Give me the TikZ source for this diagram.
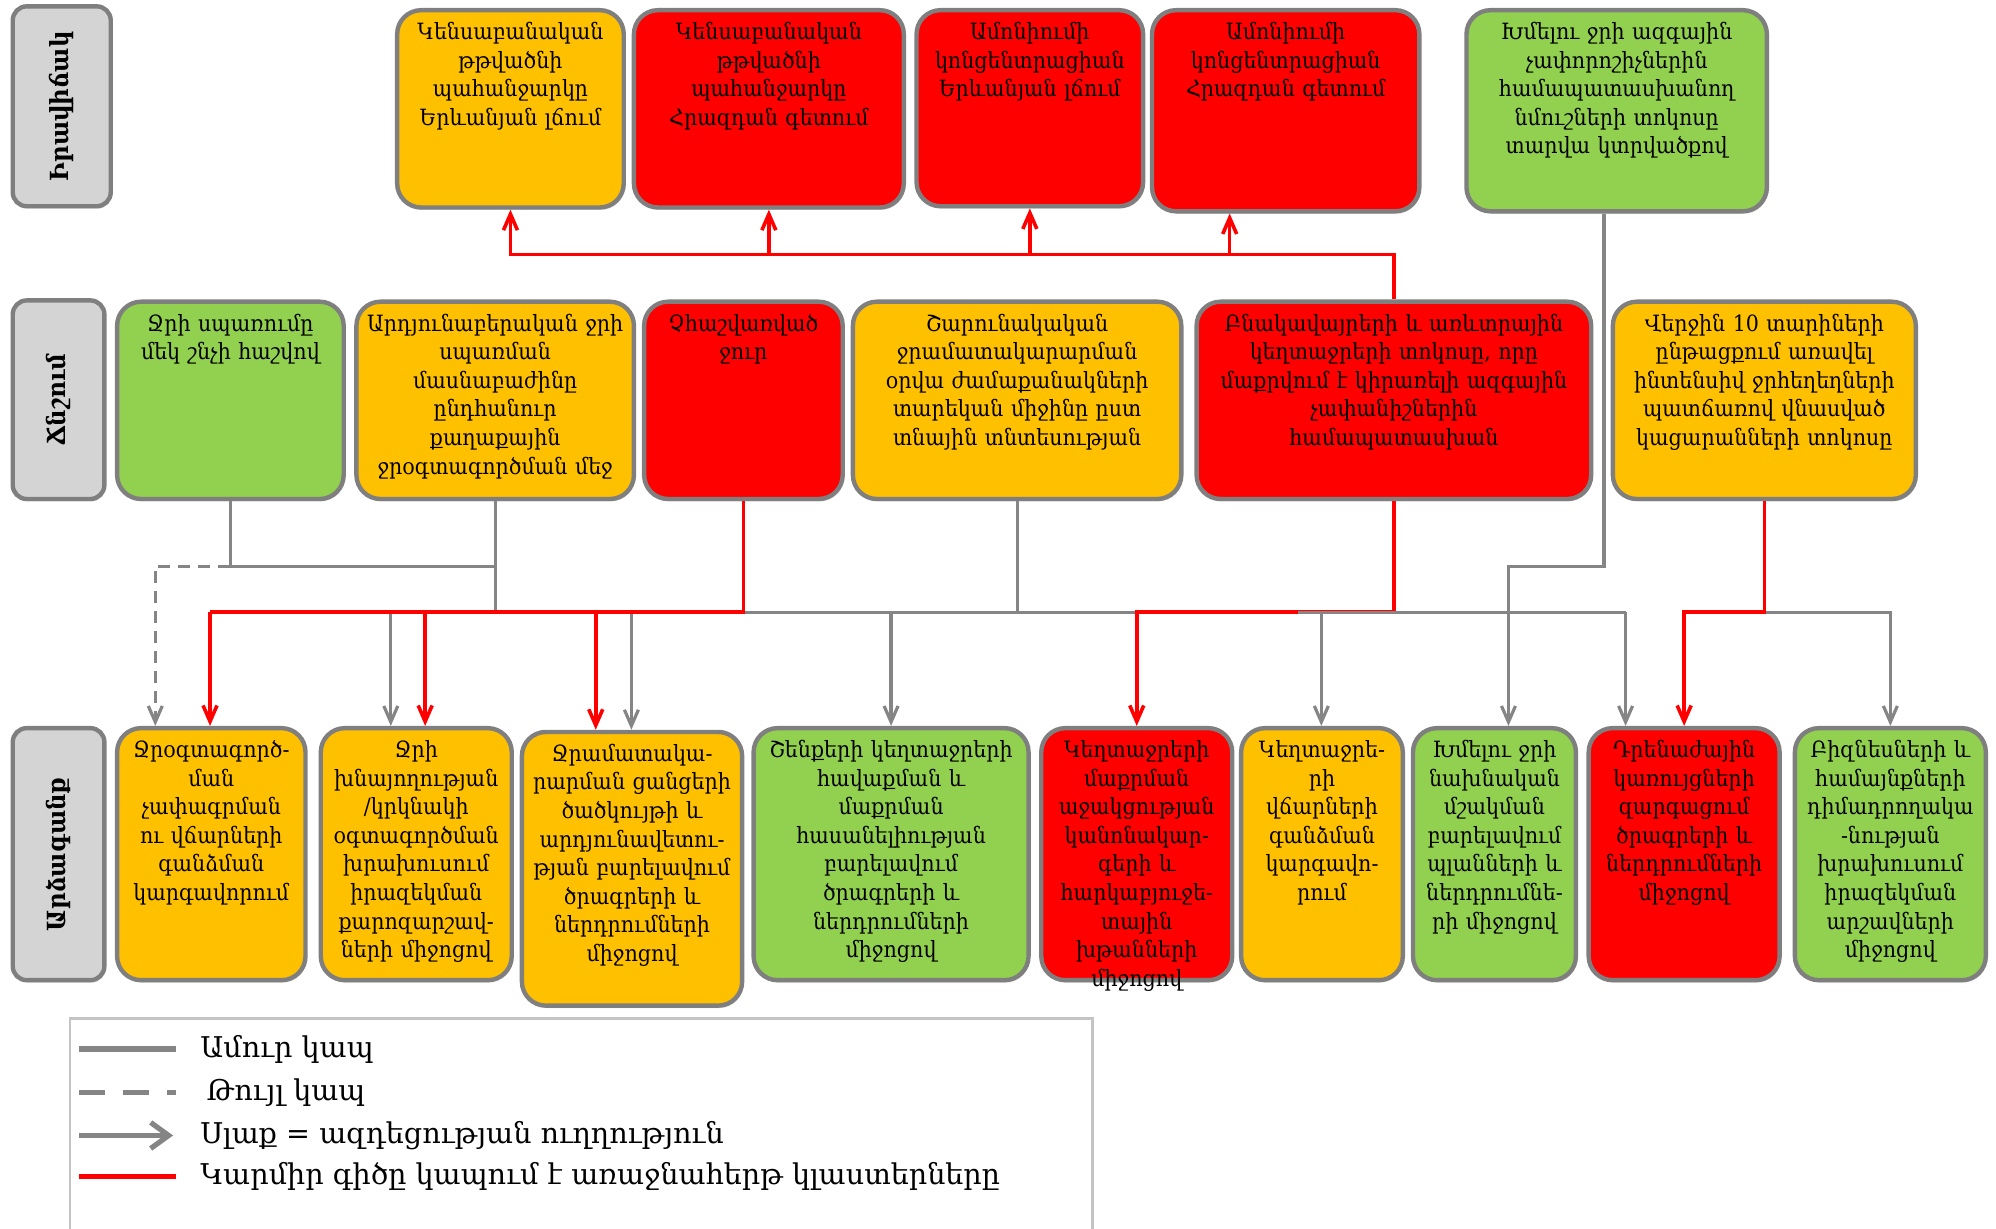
\documentclass[tikz,border=0pt]{standalone}
\usepackage{fontspec}
\setmainfont{DejaVu Serif}[FakeStretch=0.92]
\newfontfamily\legfont{DejaVu Serif}
\usetikzlibrary{arrows.meta,shadows}
\definecolor{cor}{HTML}{FFC000}
\definecolor{cred}{HTML}{FF0000}
\definecolor{cgr}{HTML}{92D050}
\definecolor{cbd}{HTML}{7F7F7F}
\definecolor{clab}{HTML}{D4D4D4}
\definecolor{cln}{HTML}{858585}
\definecolor{clegb}{HTML}{C4C4C4}
\newcommand\mybox[7]{%
  \pgfmathsetmacro\mbw{(#4-#2)*0.6365}%
  \pgfmathsetmacro\mbh{(#5-#3)*0.6365}%
  \pgfmathsetmacro\mbt{\mbw-2}%
  \node[box,fill=#6,minimum width=\mbw pt,minimum height=\mbh pt] (#1) at ({(#2+#4)/2},{(#3+#5)/2}) {};
  \node[txt,text width=\mbt pt] (#1t) at ({(#2+#4)/2},{#3+7}) {\strut #7};
}
\newcommand\mylab[6]{%
  \pgfmathsetmacro\mbw{(#4-#2)*0.6365}%
  \pgfmathsetmacro\mbh{(#5-#3)*0.6365}%
  \node[labbox,minimum width=\mbw pt,minimum height=\mbh pt] (#1) at ({(#2+#4)/2},{(#3+#5)/2}) {};
  \node[labtxt] (#1t) at (#1.center) {#6};
}
\begin{document}
\begin{tikzpicture}[x=0.6365pt,y=-0.6365pt,
  box/.style={draw=cbd,line width=2.2pt,rounded corners=12pt,inner sep=0pt,
    drop shadow={shadow xshift=0.6pt,shadow yshift=-1.2pt,opacity=0.3}},
  labbox/.style={draw=cbd,fill=clab,line width=2.2pt,rounded corners=7pt,inner sep=0pt,
    drop shadow={shadow xshift=0.6pt,shadow yshift=-1.2pt,opacity=0.3}},
  txt/.style={anchor=north,inner sep=0pt,align=center,font=\fontsize{11.2}{14.3}\selectfont},
  labtxt/.style={rotate=90,inner sep=0pt,font=\fontsize{12.5}{14}\selectfont\bfseries},
  gl/.style={draw=cln,line width=1.6pt},
  gd/.style={draw=cln,line width=1.6pt,dash pattern=on 6pt off 4pt},
  rl/.style={draw=cred,line width=1.8pt},
  ga/.style={gl,-{Straight Barb[length=8pt,width=7pt]}},
  gda/.style={gd,-{Straight Barb[length=8pt,width=7pt]}},
  ra/.style={rl,-{Straight Barb[length=8pt,width=7pt]}},
  legt/.style={anchor=west,inner sep=0pt,font=\legfont\fontsize{14.3}{16}\selectfont},
]
\useasboundingbox (0,0) rectangle (1568,965);

% side labels
\mylab{L1}{10}{5}{87}{162}{Իրավիճակ}
\mylab{L2}{10}{236}{82}{392}{Ճնշում}
\mylab{L3}{10}{572}{82}{770}{Արձագանք}

% top row
\mybox{T1}{312}{8}{490}{163}{cor}{Կենսաբանական\\թթվածնի\\պահանջարկը\\Երևանյան լճում}
\mybox{T2}{498}{8}{710}{163}{cred}{Կենսաբանական\\թթվածնի\\պահանջարկը\\Հրազդան գետում}
\mybox{T3}{720}{8}{898}{162}{cred}{Ամոնիումի\\կոնցենտրացիան\\Երևանյան լճում}
\mybox{T4}{905}{8}{1115}{166}{cred}{Ամոնիումի\\կոնցենտրացիան\\Հրազդան գետում}
\mybox{T5}{1152}{8}{1388}{166}{cgr}{Խմելու ջրի ազգային\\չափորոշիչներին\\համապատասխանող\\նմուշների տոկոսը\\տարվա կտրվածքով}

% middle row
\mybox{M1}{92}{237}{270}{392}{cgr}{Ջրի սպառումը\\մեկ շնչի հաշվով}
\mybox{M2}{280}{237}{498}{392}{cor}{Արդյունաբերական ջրի\\սպառման\\մասնաբաժինը\\ընդհանուր\\քաղաքային\\ջրօգտագործման մեջ}
\mybox{M3}{506}{237}{662}{392}{cred}{Չհաշվառված\\ջուր}
\mybox{M4}{670}{237}{928}{392}{cor}{Շարունակական\\ջրամատակարարման\\օրվա ժամաքանակների\\տարեկան միջինը ըստ\\տնային տնտեսության}
\mybox{M5}{940}{237}{1250}{392}{cred}{Բնակավայրերի և առևտրային\\կեղտաջրերի տոկոսը, որը\\մաքրվում է կիրառելի ազգային\\չափանիշներին\\համապատասխան}
\mybox{M6}{1267}{237}{1505}{392}{cor}{Վերջին 10 տարիների\\ընթացքում առավել\\ինտենսիվ ջրհեղեղների\\պատճառով վնասված\\կացարանների  տոկոսը}

% bottom row
\mybox{B1}{92}{572}{240}{770}{cor}{Ջրօգտագործ-\\ման\\չափագրման\\ու վճարների\\գանձման\\կարգավորում}
\mybox{B2}{252}{572}{402}{770}{cor}{Ջրի\\խնայողության\\/կրկնակի\\օգտագործման\\խրախուսում\\իրազեկման\\քարոզարշավ-\\ների միջոցով}
\mybox{B3}{410}{575}{583}{790}{cor}{Ջրամատակա-\\րարման ցանցերի\\ծածկույթի և\\արդյունավետու-\\թյան բարելավում\\ծրագրերի և\\ներդրումների\\միջոցով}
\mybox{B4}{592}{572}{808}{770}{cgr}{Շենքերի կեղտաջրերի\\հավաքման և\\մաքրման\\հասանելիության\\բարելավում\\ծրագրերի և\\ներդրումների\\միջոցով}
\mybox{B5}{818}{572}{968}{770}{cred}{Կեղտաջրերի\\մաքրման\\աջակցության\\կանոնակար-\\գերի և\\հարկաբյուջե-\\տային\\խթանների\\միջոցով}
\mybox{B6}{975}{572}{1102}{770}{cor}{Կեղտաջրե-\\րի\\վճարների\\գանձման\\կարգավո-\\րում}
\mybox{B7}{1110}{572}{1238}{770}{cgr}{Խմելու ջրի\\նախնական\\մշակման\\բարելավում\\պլանների և\\ներդրումնե-\\րի միջոցով}
\mybox{B8}{1248}{572}{1398}{770}{cred}{Դրենաժային\\կառույցների\\զարգացում\\ծրագրերի և\\ներդրումների\\միջոցով}
\mybox{B9}{1410}{572}{1560}{770}{cgr}{Բիզնեսների և\\համայնքների\\դիմադրողակա\\-նության\\խրախուսում\\իրազեկման\\արշավների\\միջոցով}

% helper coordinates
\coordinate (rtop) at (0,200);
\coordinate (bus) at (0,481);
\coordinate (j445) at (0,445);
\coordinate (t4a) at (966,0);
\coordinate (d1) at (122,445);
\coordinate (c165) at (165,481);
\coordinate (c334) at (334,481);
\coordinate (c468) at (468,481);
\coordinate (c307) at (307,481);
\coordinate (c496) at (496,481);
\coordinate (c700) at (700,481);
\coordinate (c1020) at (1020,481);
\coordinate (c1038) at (1038,481);
\coordinate (c1277) at (1277,481);
\coordinate (t5x) at (1260,0);
\coordinate (c1185) at (1185,445);

% top red connectors
\draw[ra] (M5.north) -- (M5.north |- rtop) -| (T1.south);
\draw[ra] (T2.south |- rtop) -- (T2.south);
\draw[ra] (T3.south |- rtop) -- (T3.south);
\draw[ra] (t4a |- rtop) -- (t4a |- T4.south);

% gray bus and sources
\draw[gl] (M1.south) -- (M1.south |- j445) -- (M2.south |- j445);
\draw[gda] (M1.south |- j445) -- (d1) -- (d1 |- B1.north);
\draw[gl] (M2.south) -- (M2.south |- bus);
\draw[gl] (M4.south) -- (M4.south |- bus);
\draw[gl] (c307) -- (c1277);
\draw[ga] (c307) -- (c307 |- B2.north);
\draw[ga] (c496) -- (c496 |- B3.north);
\draw[ga] (c700) -- (c700 |- B4.north);

% red from M3
\draw[rl] (M3.south) |- (c165);
\draw[ra] (c165) -- (c165 |- B1.north);
\draw[ra] (c334) -- (c334 |- B2.north);
\draw[ra] (c468) -- (c468 |- B3.north);

% red from M5
\draw[ra] (M5.south) -- (M5.south |- bus) -| (B5.north);
\draw[gl] (c1020) -- (c1277);
\draw[ga] (c1038) -- (c1038 |- B6.north);
\draw[ga] (c1277) -- (c1277 |- B8.north);

% M6
\draw[ga] (M6.south |- bus) -| (B9.north);
\draw[ra] (M6.south) -- (M6.south |- bus) -| (B8.north);

% T5
\draw[ga] (t5x |- T5.south) -- (t5x |- j445) -- (c1185) -- (c1185 |- B7.north);

% legend
\node[draw=clegb,line width=1.3pt,minimum width={803*0.6365pt},minimum height={180*0.6365pt},inner sep=0pt] (leg) at (456.5,890) {};
\coordinate (la1) at (62,824); \coordinate (lb1) at (138,824);
\coordinate (la2) at (62,858); \coordinate (lb2) at (138,858);
\coordinate (la3) at (62,892); \coordinate (lb3) at (136,892);
\coordinate (la4) at (62,924); \coordinate (lb4) at (138,924);
\draw[gl,line width=2.6pt] (la1) -- (lb1);
\draw[gd,line width=2.6pt,dash pattern=on 13pt off 9pt] (la2) -- (lb2);
\draw[gl,line width=2.6pt,-{Straight Barb[length=9pt,width=13pt]}] (la3) -- (lb3);
\draw[rl,line width=2.6pt] (la4) -- (lb4);
\node[legt] (lt1) at (157,824) {Ամուր կապ};
\node[legt] (lt2) at (162,858) {Թույլ կապ};
\node[legt] (lt3) at (157,892) {Սլաք = ազդեցության ուղղություն};
\node[legt] (lt4) at (157,924) {Կարմիր գիծը կապում է առաջնահերթ կլաստերները};
\end{tikzpicture}
\end{document}
